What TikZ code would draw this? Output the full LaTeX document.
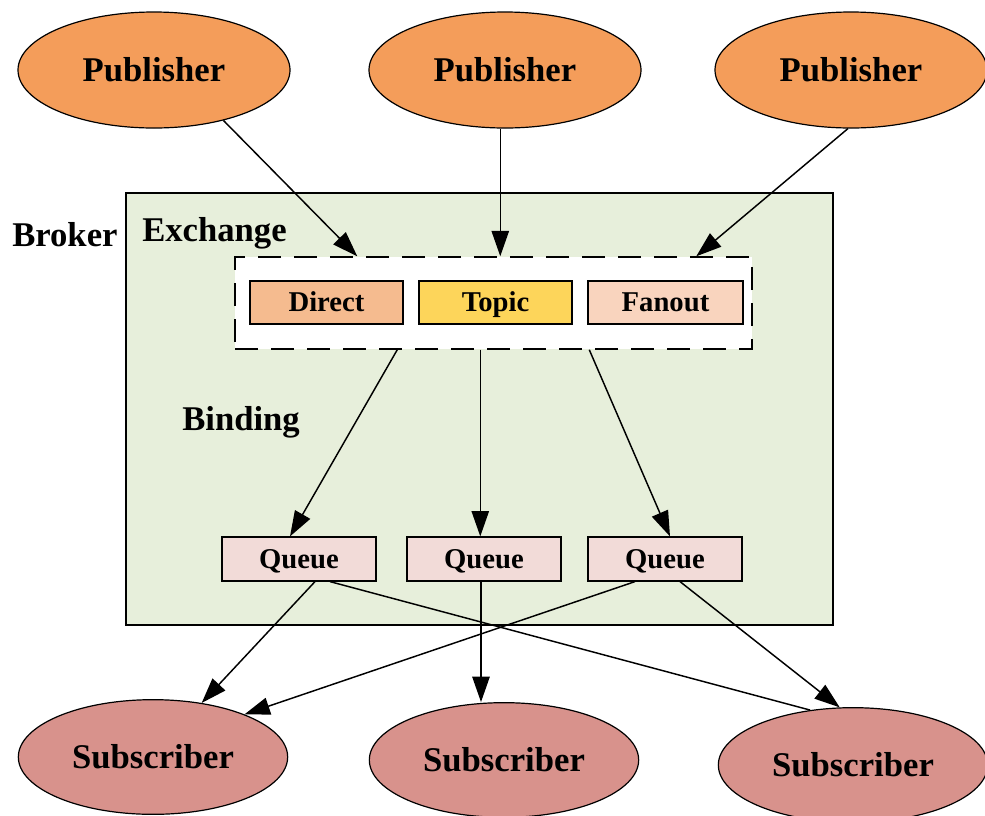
\documentclass[tikz,border=0pt]{standalone}
\usepackage{fontspec}
\setmainfont{Liberation Serif}
\usetikzlibrary{shapes.geometric,arrows.meta,calc}

\definecolor{pubfill}{HTML}{F49D5A}
\definecolor{subfill}{HTML}{D8928C}
\definecolor{brokerfill}{HTML}{E7EFDB}
\definecolor{directfill}{HTML}{F5BB8F}
\definecolor{topicfill}{HTML}{FDD55A}
\definecolor{fanoutfill}{HTML}{F9D4BE}
\definecolor{queuefill}{HTML}{F2DBD8}

\tikzset{
  bigtext/.style={font=\fontsize{26}{30}\selectfont\bfseries},
  smalltext/.style={font=\fontsize{21.5}{25}\selectfont\bfseries,
    text height=16pt, text depth=2pt},
  pub/.style={ellipse, draw=black, line width=0.9pt, fill=pubfill,
    minimum width=204pt, minimum height=87pt, inner sep=0pt, bigtext},
  sub/.style={ellipse, draw=black, line width=0.9pt, fill=subfill,
    minimum width=202pt, minimum height=86pt, inner sep=0pt, bigtext},
  exbox/.style={rectangle, draw=black, line width=0.9pt,
    minimum width=114.75pt, minimum height=32.25pt, inner sep=0pt, smalltext},
  queuebox/.style={rectangle, draw=black, line width=0.9pt, fill=queuefill,
    minimum width=115.5pt, minimum height=33pt, inner sep=0pt, smalltext},
  flow/.style={line width=1.1pt, -{Triangle[length=19pt,width=13pt]}},
  plainflow/.style={line width=1.1pt},
  lbl/.style={anchor=base west, inner sep=0pt, bigtext}
}

\begin{document}
\begin{tikzpicture}[x=0.75pt, y=-0.75pt]
  \useasboundingbox (0,0) rectangle (985,815);

  % broker area and exchange group
  \node[rectangle, draw=black, line width=0.9pt, fill=brokerfill,
        minimum width=530.25pt, minimum height=324pt, inner sep=0pt]
        (broker) at (479.5,409) {};
  \node[rectangle, draw=black, line width=1.1pt, fill=white,
        dash pattern=on 17pt off 10pt,
        minimum width=387.75pt, minimum height=69pt, inner sep=0pt]
        (ex) at (493.5,303) {};

  % labels
  \node[lbl] (lbroker) at (12,246) {Broker};
  \node[lbl] (lexchange) at (142,241) {Exchange};
  \node[lbl] (lbinding) at (182,430) {Binding};

  % exchange types
  \node[exbox, fill=directfill] (direct) at (326.5,302.5) {Direct};
  \node[exbox, fill=topicfill] (topic) at (495.5,302.5) {Topic};
  \node[exbox, fill=fanoutfill, minimum width=116.25pt] (fanout) at (665.5,302.5) {Fanout};

  % queues
  \node[queuebox] (q1) at (299,559) {Queue};
  \node[queuebox] (q2) at (484,559) {Queue};
  \node[queuebox] (q3) at (665,559) {Queue};

  % publishers and subscribers
  \node[pub] (p1) at (154,70) {Publisher};
  \node[pub] (p2) at (505,70) {Publisher};
  \node[pub] (p3) at (851,70) {Publisher};

  \node[sub] (s1) at (153,757) {Subscriber};
  \node[sub] (s2) at (504,760) {Subscriber};
  \node[sub] (s3) at (853,765) {Subscriber};

  % entry and exit points on the exchange group
  \coordinate (in1) at ($(ex.north west)+(123,0)$);
  \coordinate (in2) at ($(ex.north west)+(266,0)$);
  \coordinate (in3) at ($(ex.north west)+(462,0)$);
  \coordinate (out1) at ($(ex.south west)+(163,0)$);
  \coordinate (out2) at ($(ex.south west)+(246,0)$);
  \coordinate (out3) at ($(ex.south west)+(355,0)$);
  \coordinate (q2out) at ($(q2.south)+(-3,0)$);

  % publishers to exchange
  \draw[flow] (p1.-36) -- (in1);
  \draw[flow] (in2 |- p2.south) -- (in2);
  \draw[flow] (p3.-93) -- (in3);

  % bindings
  \draw[flow] (out1) -- ($(q1.north)+(-9,0)$);
  \draw[flow] (out2) -- (out2 |- q2.north);
  \draw[flow] (out3) -- ($(q3.north)+(5,0)$);

  % queues to subscribers
  \draw[flow] ($(q1.south)+(16,0)$) -- (s1.48);
  \draw[plainflow] ($(q1.south)+(31,0)$) -- (s3.128);
  \draw[flow] (q2out) -- (q2out |- s2.north);
  \draw[flow] ($(q3.south)+(-30,0)$) -- (s1.25);
  \draw[flow] ($(q3.south)+(15,0)$) -- (s3.103);
\end{tikzpicture}
\end{document}
